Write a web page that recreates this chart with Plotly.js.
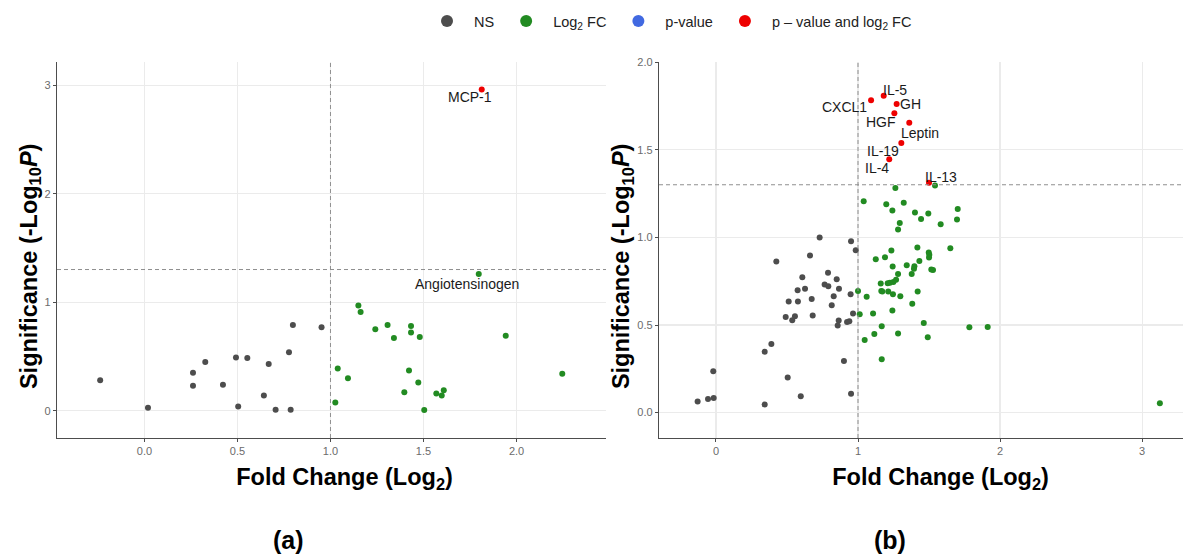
<!DOCTYPE html>
<html>
<head>
<meta charset="utf-8">
<script src="https://cdn.plot.ly/plotly-3.0.1.min.js"></script>
<style>html,body{margin:0;padding:0;background:#fff;}#chart{width:1185px;height:556px;}</style>
</head>
<body>
<div id="chart"></div>
<script>
// ---------- Thresholds ----------
const fcCutoff = 1;
const pCutoff = 0.05;

// ---------- Legend categories ----------
const categories = ["NS", "Log<sub>2</sub> FC", "p-value", "p – value and log<sub>2</sub> FC"];

// ---------- Panel (a) ----------
const aNS_x = [-0.238, 0.019, 0.261, 0.261, 0.327, 0.422, 0.492, 0.504, 0.553, 0.642, 0.668, 0.705, 0.777, 0.786, 0.798, 0.952];
const aNS_y = [0.28, 0.028, 0.35, 0.23, 0.45, 0.24, 0.49, 0.04, 0.485, 0.14, 0.43, 0.01, 0.54, 0.01, 0.79, 0.77];

const aFC_x = [1.150, 1.162, 1.241, 1.307, 1.341, 1.433, 1.433, 1.480, 1.942, 1.039, 1.094, 1.026, 1.422, 1.472, 1.397, 1.569, 1.598, 1.609, 1.504, 2.246, 1.797];
const aFC_y = [0.97, 0.91, 0.75, 0.79, 0.67, 0.78, 0.72, 0.68, 0.69, 0.39, 0.30, 0.076, 0.37, 0.26, 0.17, 0.16, 0.14, 0.19, 0.006, 0.34, 1.26];

// no points fall in the "p-value only" class
const aP_x = [null];
const aP_y = [null];

const aBoth_x = [1.813];
const aBoth_y = [2.96];

const aLabels = ["MCP-1", "Angiotensinogen"];
const aLabel_x = [1.813, 1.797];
const aLabel_y = [2.96, 1.26];

// ---------- Panel (b) ----------
const bNS_x = [0.730, 0.951, 0.984, 0.425, 0.662, 0.789, 0.608, 0.765, 0.791, 0.850, 0.866, 0.575, 0.627, 0.674, 0.512, 0.577, 0.829, 0.815, 0.948, 0.681, 0.491, 0.556, 0.537, 0.864, 0.857, 0.923, 0.939, 0.965, 0.390, 0.343, 0.901, 0.505, -0.019, -0.129, -0.056, -0.016, 0.343, 0.597, 0.951];
const bNS_y = [1.000, 0.979, 0.927, 0.863, 0.897, 0.798, 0.773, 0.731, 0.722, 0.762, 0.707, 0.699, 0.707, 0.648, 0.634, 0.634, 0.665, 0.613, 0.676, 0.554, 0.546, 0.550, 0.527, 0.526, 0.497, 0.518, 0.522, 0.566, 0.392, 0.348, 0.295, 0.200, 0.236, 0.063, 0.078, 0.083, 0.047, 0.093, 0.108];

const bFC_x = [1.263, 1.040, 1.199, 1.322, 1.242, 1.401, 1.495, 1.294, 1.282, 1.444, 1.582, 1.702, 1.697, 1.542,
  1.235, 1.418, 1.125, 1.190, 1.498, 1.502, 1.500, 1.650, 1.432, 1.244, 1.343, 1.397, 1.394, 1.516, 1.528, 1.378,
  1.282, 1.268, 1.249, 1.225, 1.209, 1.160, 1.000, 1.164, 1.171, 1.213, 1.420, 1.246, 1.061, 1.298, 1.382, 1.242,
  1.012, 1.106, 1.463, 1.167, 1.784, 1.115, 1.282, 1.491, 1.047, 1.167, 1.913, 3.125];
const bFC_y = [1.282, 1.207, 1.190, 1.198, 1.154, 1.143, 1.137, 1.083, 1.046, 1.105, 1.076, 1.162, 1.103, 1.297,
  0.926, 0.943, 0.876, 0.887, 0.914, 0.901, 0.886, 0.939, 0.865, 0.834, 0.842, 0.836, 0.821, 0.817, 0.815, 0.792,
  0.792, 0.758, 0.746, 0.741, 0.739, 0.737, 0.695, 0.695, 0.691, 0.691, 0.691, 0.676, 0.661, 0.665, 0.621, 0.583,
  0.562, 0.566, 0.512, 0.493, 0.487, 0.449, 0.451, 0.430, 0.415, 0.305, 0.489, 0.053];

const bP_x = [null];
const bP_y = [null];

const bLabels = ["IL-5", "CXCL1", "GH", "HGF", "Leptin", "IL-19", "IL-4", "IL-13"];
const bBoth_x = [1.181, 1.092, 1.272, 1.256, 1.361, 1.305, 1.220, 1.500];
const bBoth_y = [1.809, 1.783, 1.762, 1.709, 1.655, 1.539, 1.447, 1.312];

// ---------- Styling ----------
const FONT = "Liberation Sans, Arial, sans-serif";
const colors = ["#4D4D4D", "#228B22", "#4169E1", "#EE0000"];
const mSize = 6;
// label text offsets in pixels (dx, dy; dy positive = up)
const aLabelShift = [[-12, -8], [-12, -10]];
const bLabelShift = [[11, 6], [-27, -7], [14, 0], [-13, -9], [11, -10], [-18, -8], [-12, -9], [12, 6]];

function pts(x, y, cat, xa, ya, showLegend) {
  return {
    type: "scatter", mode: "markers", x: x, y: y,
    xaxis: xa, yaxis: ya,
    name: categories[cat], legendgroup: "g" + cat, showlegend: showLegend,
    marker: { color: colors[cat], size: mSize, line: { width: 0 } },
    hoverinfo: "x+y"
  };
}

const traces = [
  pts(aNS_x, aNS_y, 0, "x", "y", true),
  pts(aFC_x, aFC_y, 1, "x", "y", true),
  pts(aP_x, aP_y, 2, "x", "y", true),
  pts(aBoth_x, aBoth_y, 3, "x", "y", true),
  pts(bNS_x, bNS_y, 0, "x2", "y2", false),
  pts(bFC_x, bFC_y, 1, "x2", "y2", false),
  pts(bP_x, bP_y, 2, "x2", "y2", false),
  pts(bBoth_x, bBoth_y, 3, "x2", "y2", false)
];

const W = 1185, H = 556;
const axisCommon = {
  showline: true, linecolor: "#4D4D4D", linewidth: 1.2, mirror: false,
  ticks: "outside", ticklen: 3, tickcolor: "#4D4D4D", tickwidth: 1,
  showgrid: true, gridcolor: "#EBEBEB", gridwidth: 1.1,
  zeroline: false,
  tickfont: { family: FONT, size: 11, color: "#6b6b6b" }
};
const nb = n => "\u00a0".repeat(n);
const titleFont = { family: FONT, size: 23.5, color: "#000" };
const xTitleA = { text: "<b>" + nb(4) + "Fold Change (Log<sub>2</sub>)</b>", font: titleFont, standoff: 12 };
const xTitleB = { text: "<b>" + nb(6) + "Fold Change (Log<sub>2</sub>)</b>", font: titleFont, standoff: 12 };
const yTitle = { text: "<b>Significance (-Log<sub>10</sub><i>P</i>)" + nb(5) + "</b>", font: titleFont, standoff: 0 };

const yDom = [(H - 438) / H, (H - 62) / H];

const layout = {
  width: W, height: H,
  margin: { l: 0, r: 0, t: 0, b: 0 },
  paper_bgcolor: "#fff", plot_bgcolor: "#fff",
  showlegend: true,
  legend: {
    orientation: "h", x: 420 / W, xanchor: "left", y: 1 - 5 / H, yanchor: "top",
    font: { family: FONT, size: 14.5, color: "#222" },
    itemsizing: "constant", itemwidth: 44, traceorder: "normal"
  },
  xaxis: Object.assign({}, axisCommon, { domain: [57 / W, 606 / W], range: [-0.47, 2.481], tickvals: [0, 0.5, 1, 1.5, 2], ticktext: ["0.0", "0.5", "1.0", "1.5", "2.0"], anchor: "y", title: xTitleA }),
  yaxis: Object.assign({}, axisCommon, { domain: yDom, range: [-0.251, 3.213], tickvals: [0, 1, 2, 3], anchor: "x", title: yTitle }),
  xaxis2: Object.assign({}, axisCommon, { domain: [659 / W, 1183 / W], range: [-0.401, 3.288], tickvals: [0, 1, 2, 3], anchor: "y2", title: xTitleB }),
  yaxis2: Object.assign({}, axisCommon, { domain: yDom, range: [-0.145, 2.002], tickvals: [0, 0.5, 1, 1.5, 2], ticktext: ["0.0", "0.5", "1.0", "1.5", "2.0"], anchor: "x2", title: yTitle }),
  shapes: [],
  annotations: []
};

const pLine = -Math.log10(pCutoff);
const dashStyle = { color: "#8f8f8f", width: 1, dash: "4px,3px" };
[["x", "y"], ["x2", "y2"]].forEach(([xa, ya]) => {
  layout.shapes.push({ type: "line", xref: xa, yref: ya + " domain", x0: fcCutoff, x1: fcCutoff, y0: 0, y1: 1, line: dashStyle, layer: "above" });
  layout.shapes.push({ type: "line", xref: xa + " domain", yref: ya, x0: 0, x1: 1, y0: pLine, y1: pLine, line: dashStyle, layer: "above" });
});

const labFont = { family: FONT, size: 14, color: "#1a1a1a" };
aLabels.forEach((t, i) => {
  layout.annotations.push({ xref: "x", yref: "y", x: aLabel_x[i], y: aLabel_y[i], text: t, showarrow: false, font: labFont, xshift: aLabelShift[i][0], yshift: aLabelShift[i][1] });
});
bLabels.forEach((t, i) => {
  layout.annotations.push({ xref: "x2", yref: "y2", x: bBoth_x[i], y: bBoth_y[i], text: t, showarrow: false, font: labFont, xshift: bLabelShift[i][0], yshift: bLabelShift[i][1] });
});

const panelFont = { family: FONT, size: 25, color: "#000" };
layout.annotations.push({ xref: "paper", yref: "paper", x: 288 / W, y: (H - 540) / H, text: "<b>(a)</b>", showarrow: false, font: panelFont, xanchor: "center", yanchor: "middle" });
layout.annotations.push({ xref: "paper", yref: "paper", x: 890 / W, y: (H - 540) / H, text: "<b>(b)</b>", showarrow: false, font: panelFont, xanchor: "center", yanchor: "middle" });

Plotly.newPlot("chart", traces, layout, { displayModeBar: false, staticPlot: true });
</script>
</body>
</html>
